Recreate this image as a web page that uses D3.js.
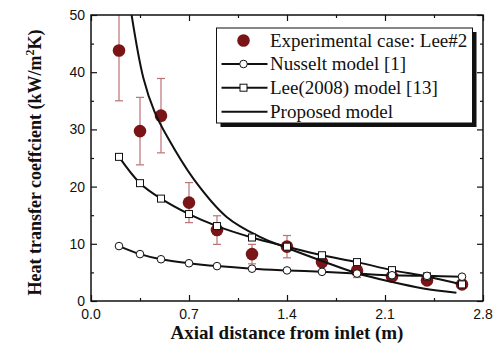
<!DOCTYPE html>
<html>
<head>
<meta charset="utf-8">
<script src="https://cdn.jsdelivr.net/npm/d3@7"></script>
<style>
  body { margin: 0; background: #fff; }
  svg { display: block; }
  .tick-label { font-family: "Liberation Sans", Arial, sans-serif; font-size: 14px; fill: #111; }
  .axis-title { font-family: "Liberation Serif", "Times New Roman", serif; font-size: 19px; font-weight: bold; fill: #111; }
  .legend-text { font-family: "Liberation Serif", "Times New Roman", serif; font-size: 19px; fill: #111; }
</style>
</head>
<body>
<div class="chart"></div>
<script>
// values
var xTicks = [0.0, 0.7, 1.4, 2.1, 2.8];
var yTicks = [0, 10, 20, 30, 40, 50];

var stations = [0.2, 0.35, 0.5, 0.7, 0.9, 1.15, 1.4, 1.65, 1.9, 2.15, 2.4, 2.65];
var expValues = [43.8, 29.7, 32.4, 17.2, 12.4, 8.2, 9.5, 6.8, 5.3, 4.3, 3.6, 2.9];
var expErr = [8.8, 5.9, 6.5, 3.5, 2.5, 1.7, 1.95, 0.6, 1.2, 0.4, 0.3, 0.2];
var nusselt = [9.6, 8.2, 7.3, 6.6, 6.1, 5.65, 5.35, 5.1, 4.8, 4.5, 4.4, 4.25];
var lee2008 = [25.2, 20.6, 17.9, 15.2, 13.1, 11.1, 9.5, 8.0, 6.8, 5.4, 4.3, 2.9];

var proposedX = [0.29, 0.374, 0.452, 0.545, 0.731, 0.969, 1.207, 1.398, 1.66, 1.90, 2.136, 2.374, 2.61];
var proposedY = [50, 39.0, 33.2, 28.7, 21.4, 14.7, 11.2, 9.3, 6.9, 4.85, 3.4, 2.2, 1.45];

var legendLabels = ["Experimental case: Lee#2", "Nusselt model [1]", "Lee(2008) model [13]", "Proposed model"];

// plot dimensions
var svgWidth = 497;
var svgHeight = 349;
var margin = { top: 15, right: 14, bottom: 48, left: 91 };
var width = svgWidth - margin.left - margin.right;
var height = svgHeight - margin.top - margin.bottom;

var darkRed = "#7b1416";
var errColor = "#bb7272";

var svg = d3.select(".chart")
  .append("svg")
  .attr("width", svgWidth)
  .attr("height", svgHeight);

var chartGroup = svg.append("g")
  .attr("transform", `translate(${margin.left}, ${margin.top})`);

var x = d3.scaleLinear().domain([0, 2.8]).range([0, width]);
var y = d3.scaleLinear().domain([0, 50]).range([height, 0]);

svg.append("clipPath").attr("id", "plot-clip")
  .append("rect").attr("width", width).attr("height", height);

// ticks, all pointing inward
var xMinor = d3.range(0.35, 2.8, 0.7);
var yMinor = d3.range(5, 50, 10);

function inwardTicks(g, axisFn, scale, values, len) {
  g.call(axisFn(scale).tickValues(values).tickSize(-len).tickFormat(""))
    .call(s => s.select(".domain").remove())
    .selectAll("line").attr("stroke", "#111").attr("stroke-width", 1.2);
}

var bottomTicks = chartGroup.append("g").attr("transform", `translate(0, ${height})`);
inwardTicks(bottomTicks.append("g"), d3.axisBottom, x, xTicks, 6);
inwardTicks(bottomTicks.append("g"), d3.axisBottom, x, xMinor, 3);
var topTicks = chartGroup.append("g");
inwardTicks(topTicks.append("g"), d3.axisTop, x, xTicks, 6);
inwardTicks(topTicks.append("g"), d3.axisTop, x, xMinor, 3);
var leftTicks = chartGroup.append("g");
inwardTicks(leftTicks.append("g"), d3.axisLeft, y, yTicks, 6);
inwardTicks(leftTicks.append("g"), d3.axisLeft, y, yMinor, 3);
var rightTicks = chartGroup.append("g").attr("transform", `translate(${width}, 0)`);
inwardTicks(rightTicks.append("g"), d3.axisRight, y, yTicks, 6);
inwardTicks(rightTicks.append("g"), d3.axisRight, y, yMinor, 3);

// tick labels
chartGroup.selectAll(".xl").data(xTicks).enter().append("text")
  .attr("class", "tick-label")
  .attr("x", d => x(d))
  .attr("y", height + 18)
  .attr("text-anchor", "middle")
  .text(d => d3.format(".1f")(d));

chartGroup.selectAll(".yl").data(yTicks).enter().append("text")
  .attr("class", "tick-label")
  .attr("x", -6)
  .attr("y", d => y(d) + 5)
  .attr("text-anchor", "end")
  .text(d => d);

// experimental points with error bars
var plot = chartGroup.append("g").attr("clip-path", "url(#plot-clip)");
var exp = stations.map((s, i) => ({ x: s, y: expValues[i], e: expErr[i] }));

var errG = plot.selectAll(".err").data(exp).enter().append("g")
  .attr("stroke", errColor).attr("stroke-width", 1.2);
errG.append("line")
  .attr("x1", d => x(d.x)).attr("x2", d => x(d.x))
  .attr("y1", d => y(d.y - d.e)).attr("y2", d => y(d.y + d.e));
errG.append("line")
  .attr("x1", d => x(d.x) - 4).attr("x2", d => x(d.x) + 4)
  .attr("y1", d => y(d.y - d.e)).attr("y2", d => y(d.y - d.e));
errG.append("line")
  .attr("x1", d => x(d.x) - 4).attr("x2", d => x(d.x) + 4)
  .attr("y1", d => y(d.y + d.e)).attr("y2", d => y(d.y + d.e));

plot.selectAll(".dot").data(exp).enter().append("circle")
  .attr("cx", d => x(d.x)).attr("cy", d => y(d.y))
  .attr("r", 6.3).attr("fill", darkRed);

// proposed model curve
var proposed = proposedX.map((v, i) => [v, proposedY[i]]);
plot.append("path")
  .datum(proposed)
  .attr("fill", "none").attr("stroke", "#111").attr("stroke-width", 2)
  .attr("d", d3.line().x(d => x(d[0])).y(d => y(d[1])).curve(d3.curveCatmullRom));

// model lines with markers
var lineGen = d3.line().x(d => x(d[0])).y(d => y(d[1])).curve(d3.curveCatmullRom);
var nusseltPts = stations.map((s, i) => [s, nusselt[i]]);
var leePts = stations.map((s, i) => [s, lee2008[i]]);

plot.append("path").datum(leePts)
  .attr("fill", "none").attr("stroke", "#111").attr("stroke-width", 2).attr("d", lineGen);
plot.append("path").datum(nusseltPts)
  .attr("fill", "none").attr("stroke", "#111").attr("stroke-width", 2).attr("d", lineGen);

plot.selectAll(".sq").data(leePts).enter().append("rect")
  .attr("x", d => x(d[0]) - 3.5).attr("y", d => y(d[1]) - 3.5)
  .attr("width", 7).attr("height", 7)
  .attr("fill", "#fff").attr("stroke", "#111").attr("stroke-width", 1);
plot.selectAll(".ci").data(nusseltPts).enter().append("circle")
  .attr("cx", d => x(d[0])).attr("cy", d => y(d[1])).attr("r", 3.8)
  .attr("fill", "#fff").attr("stroke", "#111").attr("stroke-width", 1);

// frame
chartGroup.append("rect")
  .attr("width", width).attr("height", height)
  .attr("fill", "none").attr("stroke", "#111").attr("stroke-width", 1.5);

// axis titles
svg.append("text")
  .attr("class", "axis-title")
  .attr("x", margin.left + width / 2)
  .attr("y", 339)
  .attr("text-anchor", "middle")
  .text("Axial distance from inlet (m)");

var yTitle = svg.append("text")
  .attr("class", "axis-title")
  .style("font-size", "18px")
  .attr("text-anchor", "middle")
  .attr("transform", "translate(40.5, 162.5) rotate(-90)");
yTitle.append("tspan").text("Heat transfer coeffcient (kW/m");
yTitle.append("tspan").attr("dy", -7).style("font-size", "12px").text("2");
yTitle.append("tspan").attr("dy", 7).text("K)");

// legend
var lg = svg.append("g").attr("transform", "translate(216.5, 28)");
lg.append("rect").attr("x", 4).attr("y", 4).attr("width", 256).attr("height", 95).attr("fill", "#111");
lg.append("rect").attr("width", 256).attr("height", 95)
  .attr("fill", "#fff").attr("stroke", "#111").attr("stroke-width", 1);

var rowY = [12.5, 36, 59.7, 83.7];
legendLabels.forEach((label, i) => {
  var row = lg.append("g").attr("transform", `translate(0, ${rowY[i]})`);
  if (i === 0) {
    row.append("circle").attr("cx", 27).attr("cy", 0).attr("r", 6.3).attr("fill", darkRed);
  } else {
    row.append("line").attr("x1", 5).attr("x2", 51).attr("y1", 0).attr("y2", 0)
      .attr("stroke", "#111").attr("stroke-width", 2);
    if (i === 1) {
      row.append("circle").attr("cx", 27).attr("cy", 0).attr("r", 3.8)
        .attr("fill", "#fff").attr("stroke", "#111");
    } else if (i === 2) {
      row.append("rect").attr("x", 23.5).attr("y", -3.5).attr("width", 7).attr("height", 7)
        .attr("fill", "#fff").attr("stroke", "#111");
    }
  }
  row.append("text").attr("class", "legend-text")
    .attr("x", 53.5).attr("y", 6)
    .text(label);
});
</script>
</body>
</html>
